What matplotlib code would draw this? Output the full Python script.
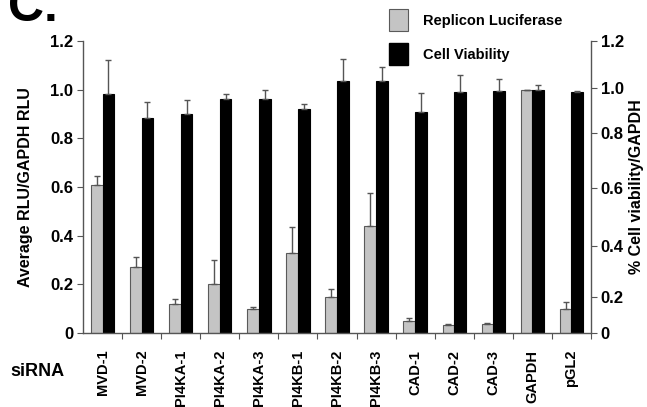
import numpy as np
import matplotlib
matplotlib.use("Agg")
import matplotlib.pyplot as plt
from matplotlib.patches import Patch

plt.rcParams['font.family'] = ['Liberation Sans', 'DejaVu Sans']
plt.rcParams['font.weight'] = 'bold'

# siRNA knockdown data
sirna = ['MVD-1', 'MVD-2', 'PI4KA-1', 'PI4KA-2', 'PI4KA-3', 'PI4KB-1', 'PI4KB-2',
         'PI4KB-3', 'CAD-1', 'CAD-2', 'CAD-3', 'GAPDH', 'pGL2']
luciferase = [0.61, 0.27, 0.12, 0.20, 0.10, 0.33, 0.15, 0.44, 0.05, 0.033, 0.037, 1.0, 0.097]
luciferase_err = [0.036, 0.044, 0.019, 0.098, 0.007, 0.106, 0.030, 0.135, 0.010, 0.003, 0.005, 0.0, 0.031]
viability = [0.982, 0.884, 0.899, 0.962, 0.962, 0.921, 1.034, 1.037, 0.910, 0.989, 0.995, 1.0, 0.989]
viability_err = [0.14, 0.064, 0.059, 0.019, 0.037, 0.019, 0.091, 0.057, 0.075, 0.071, 0.049, 0.019, 0.004]

left_ticks = [0, 0.2, 0.4, 0.6, 0.8, 1.0, 1.2]
left_labels = ['0', '0.2', '0.4', '0.6', '0.8', '1.0', '1.2']
# right axis was drawn by hand, so its ticks sit unevenly on the left scale
right_tick_pos = [0, 0.148, 0.358, 0.596, 0.822, 1.006, 1.2]
right_labels = ['0', '0.2', '0.4', '0.6', '0.8', '1.0', '1.2']

gray = '#c4c4c4'
axcol = '#555555'

fig = plt.figure(figsize=(6.47, 4.07), dpi=100)
ax = fig.add_axes([83/647, 74/407, 508/647, 292/407])

x = np.arange(len(sirna))
w = 0.3
zeros = np.zeros(len(sirna))
ax.bar(x - w/2, luciferase, w, color=gray, edgecolor='#5a5a5a', linewidth=0.8,
       yerr=[zeros, luciferase_err], error_kw=dict(ecolor=axcol, elinewidth=1, capsize=2, capthick=1))
ax.bar(x + w/2, viability, w, color='black', edgecolor='black', linewidth=0.8,
       yerr=[zeros, viability_err], error_kw=dict(ecolor=axcol, elinewidth=1, capsize=2, capthick=1))

ax.set_xlim(-0.5, len(sirna) - 0.5)
ax.set_ylim(0, 1.2)
for s in ['top', 'right']:
    ax.spines[s].set_visible(False)
for s in ['left', 'bottom']:
    ax.spines[s].set_color(axcol)
    ax.spines[s].set_linewidth(1)

ax.set_yticks(left_ticks)
ax.set_yticklabels(left_labels, fontsize=12, fontweight='bold')
ax.tick_params(axis='y', length=4, width=0.8, color=axcol, pad=3)

ax.set_xticks(x)
ax.set_xticklabels(sirna, rotation=90, fontsize=10.5, fontweight='bold')
ax.tick_params(axis='x', which='major', length=0, pad=12)
ax.set_xticks(np.arange(0.5, len(sirna), 1.0), minor=True)
ax.tick_params(axis='x', which='minor', length=4, width=0.8, color=axcol, direction='out')

ax.set_ylabel('Average RLU/GAPDH RLU', fontsize=11.5, fontweight='bold', labelpad=12)

ax2 = ax.twinx()
ax2.set_ylim(0, 1.2)
for s in ['top', 'left', 'bottom']:
    ax2.spines[s].set_visible(False)
ax2.spines['right'].set_color(axcol)
ax2.spines['right'].set_linewidth(1)
ax2.set_yticks(right_tick_pos)
ax2.set_yticklabels(right_labels, fontsize=12, fontweight='bold')
ax2.tick_params(axis='y', length=4, width=0.8, color=axcol, pad=3)
ax2.set_ylabel('% Cell viability/GAPDH', fontsize=11.5, fontweight='bold', labelpad=4)

fig.text(10/647, 1 - 372/407, 'siRNA', fontsize=13, fontweight='bold', va='center', ha='left')
fig.text(8/647, 1 - 21/407, 'C.', fontsize=36, fontweight='bold', va='baseline', ha='left')

handles = [Patch(facecolor=gray, edgecolor='#5a5a5a', linewidth=0.8),
           Patch(facecolor='black', edgecolor='black')]
fig.legend(handles, ['Replicon Luciferase', 'Cell Viability'], loc='upper left',
           bbox_to_anchor=(376/647, 1 + 4/407), frameon=False, handlelength=1.3,
           handleheight=1.9, labelspacing=0.85, handletextpad=1.0,
           prop=dict(size=10.5, weight='bold'))

fig.savefig('out.png', dpi=100)
